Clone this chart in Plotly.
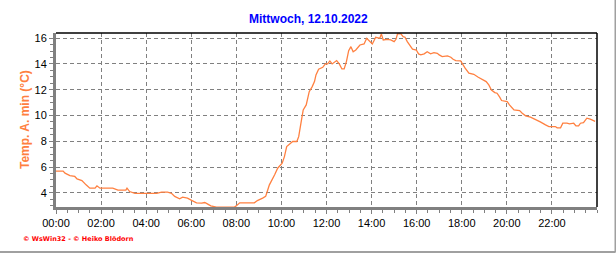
import plotly.graph_objects as go

# time in minutes since midnight, minimum outdoor temperature in °C
minutes = [0, 19, 24, 37, 50, 56, 69, 74, 80, 90, 104, 109, 117, 151, 157, 165, 186, 189, 196, 210,
           268, 281, 297, 308, 316, 329, 337, 350, 361, 369, 374, 388, 396, 404, 412, 427, 475, 481,
           489, 528, 536, 550, 558, 561, 568, 582, 590, 602, 608, 614, 623, 630, 641, 646, 652, 658,
           666, 674, 682, 688, 692, 699, 710, 717, 723, 729, 735, 747, 754, 761, 767, 773, 779, 785,
           791, 798, 809, 820, 827, 834, 842, 851, 862, 866, 871, 882, 891, 900, 905, 909, 918, 924,
           929, 935, 942, 949, 959, 965, 971, 980, 988, 997, 1006, 1015, 1020, 1028, 1042, 1051,
           1057, 1064, 1077, 1081, 1089, 1099, 1112, 1124, 1134, 1145, 1152, 1159, 1168, 1174, 1181,
           1186, 1201, 1207, 1219, 1234, 1241, 1250, 1263, 1272, 1281, 1289, 1303, 1312, 1329, 1334,
           1343, 1349, 1360, 1367, 1378, 1384, 1391, 1396, 1404, 1413, 1422, 1431, 1435]
temps = [5.68, 5.68, 5.53, 5.34, 5.27, 5.08, 4.95, 4.83, 4.62, 4.36, 4.36, 4.54, 4.36, 4.36, 4.28, 4.21,
         4.21, 4.36, 4.10, 3.95, 3.95, 4.05, 4.05, 3.95, 3.72, 3.54, 3.67, 3.59, 3.41, 3.33, 3.22, 3.20,
         3.25, 3.12, 2.99, 2.89, 2.89, 3.02, 3.22, 3.22, 3.40, 3.59, 3.72, 3.98, 4.62, 5.40, 5.91, 6.30,
         6.81, 7.59, 7.85, 7.98, 7.98, 8.36, 9.40, 10.43, 10.82, 11.85, 12.24, 12.63, 13.15, 13.59,
         13.74, 14.00, 14.00, 14.23, 14.00, 14.26, 14.00, 13.61, 13.61, 14.18, 15.03, 15.34, 14.95,
         15.08, 15.47, 15.55, 15.99, 15.81, 15.55, 16.07, 15.99, 16.33, 15.86, 15.91, 15.86, 15.73,
         15.91, 16.33, 16.33, 16.12, 16.07, 15.73, 15.40, 15.14, 15.08, 14.78, 14.70, 14.78, 14.95,
         14.78, 14.88, 14.83, 14.70, 14.57, 14.62, 14.52, 14.36, 14.26, 14.23, 14.00, 13.67, 13.28,
         13.20, 12.97, 12.81, 12.63, 12.37, 11.98, 11.78, 11.73, 11.42, 11.16, 11.08, 10.82, 10.43,
         10.38, 10.18, 9.97, 9.87, 9.76, 9.66, 9.50, 9.27, 9.14, 9.14, 9.04, 9.04, 9.40, 9.40, 9.35,
         9.40, 9.19, 9.19, 9.40, 9.45, 9.79, 9.71, 9.61, 9.55]

x_tick_hours = [0, 2, 4, 6, 8, 10, 12, 14, 16, 18, 20, 22]
x_tick_labels = ["00:00", "02:00", "04:00", "06:00", "08:00", "10:00",
                 "12:00", "14:00", "16:00", "18:00", "20:00", "22:00"]
y_tick_vals = [4, 6, 8, 10, 12, 14, 16]

title_text = "Mittwoch, 12.10.2022"
y_title_text = "Temp. A. min (°C)"
footer_text = "© WsWin32 - © Heiko Blödorn"

hours = [m / 60 for m in minutes]

ORANGE = "#FF8040"
GRID = "#808080"

fig = go.Figure()
fig.add_trace(go.Scatter(x=hours, y=temps, mode="lines",
                         line=dict(color=ORANGE, width=1.3), hoverinfo="skip"))

fig.update_layout(
    width=616, height=253,
    margin=dict(l=56, r=19, t=33, b=46),
    paper_bgcolor="white", plot_bgcolor="white",
    showlegend=False,
    font=dict(family="Liberation Sans, Arial, sans-serif", size=11, color="black"),
    xaxis=dict(range=[0, 24], tickvals=x_tick_hours, ticktext=x_tick_labels,
               showgrid=True, gridcolor=GRID, griddash="4px,3px", gridwidth=1,
               zeroline=False, showline=True, linecolor=GRID, linewidth=3,
               ticks="outside", ticklen=4, tickcolor=GRID, tickwidth=1,
               minor=dict(dtick=0.5, ticks="outside", ticklen=3, tickcolor=GRID, showgrid=False),
               tickfont=dict(size=11)),
    yaxis=dict(range=[2.9, 16.4], tickvals=y_tick_vals,
               showgrid=True, gridcolor=GRID, griddash="4px,3px", gridwidth=1,
               zeroline=False, showline=True, linecolor=GRID, linewidth=3,
               ticks="outside", ticklen=4, tickcolor=GRID, tickwidth=1,
               minor=dict(dtick=0.5, ticks="outside", ticklen=3, tickcolor=GRID, showgrid=False),
               tickfont=dict(size=11)),
    shapes=[
        dict(type="line", xref="paper", yref="paper", x0=0, x1=1, y0=1, y1=1,
             line=dict(color="black", width=1.5)),
        dict(type="line", xref="paper", yref="paper", x0=1, x1=1, y0=0, y1=1,
             line=dict(color="black", width=1.5)),
        dict(type="line", xref="paper", yref="paper", x0=1.0342, x1=1.0342, y0=-0.26, y1=1.2,
             line=dict(color="#A0A0A0", width=2)),
        dict(type="line", xref="paper", yref="paper", x0=-0.11, x1=1.0342, y0=-0.2585, y1=-0.2585,
             line=dict(color="#A0A0A0", width=2)),
    ],
    annotations=[
        dict(text="<b>" + title_text + "</b>", xref="paper", yref="paper",
             x=(308 - 56) / 541, y=1 + (33 - 19) / 174, xanchor="center", yanchor="middle",
             showarrow=False, font=dict(size=12, color="#0000FF", family="Liberation Sans, Arial")),
        dict(text="<b>" + y_title_text + "</b>", xref="paper", yref="paper",
             x=(25 - 56) / 541, y=0.5, xanchor="center", yanchor="middle", textangle=-90,
             showarrow=False, font=dict(size=12, color=ORANGE, family="Liberation Sans, Arial")),
        dict(text="<b>" + footer_text + "</b>", xref="paper", yref="paper",
             x=(21 - 56) / 541, y=-(239 - 207) / 174, xanchor="left", yanchor="middle",
             showarrow=False, font=dict(size=6.5, color="#FF0000", family="DejaVu Sans")),
    ],
)

fig.write_html("out.html")
